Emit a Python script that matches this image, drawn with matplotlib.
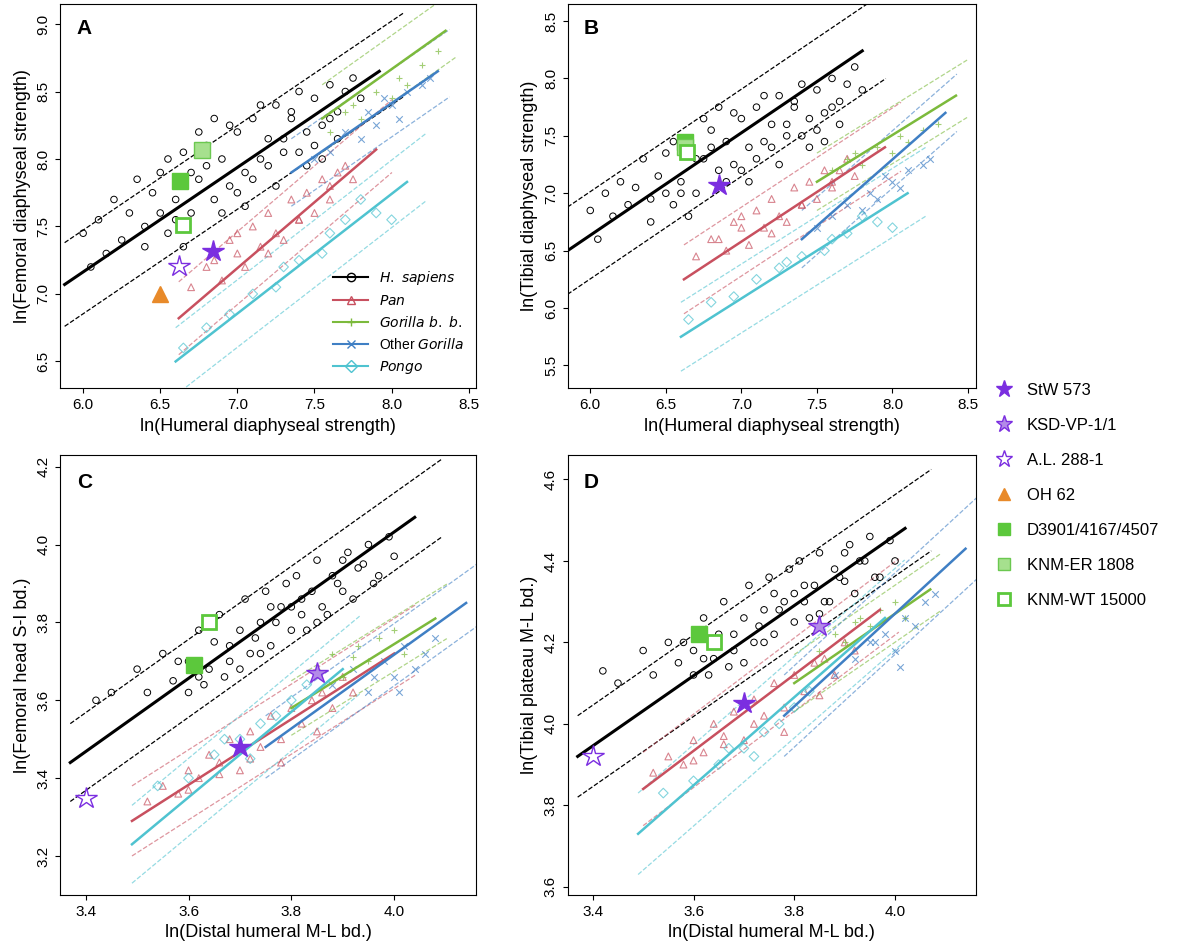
import matplotlib
matplotlib.use("Agg")
import matplotlib.pyplot as plt
from matplotlib.lines import Line2D
import numpy as np

plt.rcParams['font.family'] = ['Liberation Sans', 'DejaVu Sans']

COL = {'sap': 'black', 'pan': '#c8505f', 'gbb': '#7cba3c', 'gor': '#3f7fc4', 'pon': '#4fc3d0'}
MK = {'sap': 'o', 'pan': '^', 'gbb': '+', 'gor': 'x', 'pon': 'D'}

# ---------- Panel A data ----------
A_sap_x = [6.0,6.05,6.1,6.15,6.2,6.25,6.3,6.35,6.4,6.45,6.5,6.55,6.6,6.65,6.7,6.75,6.8,6.85,6.9,6.95,7.0,7.05,7.1,7.15,7.2,7.25,7.3,7.35,7.4,7.45,7.5,7.55,7.6,7.65,7.7,7.75,7.8,6.4,6.5,6.6,6.7,6.8,6.9,7.0,7.1,7.2,7.3,7.4,7.5,7.6,6.55,6.75,6.95,7.15,7.35,7.55,7.05,7.25,6.85,6.65,7.45,7.65]
A_sap_y = [7.45,7.2,7.55,7.3,7.7,7.4,7.6,7.85,7.5,7.75,7.9,7.45,7.7,8.05,7.6,7.85,8.1,7.7,8.0,7.8,8.2,7.9,8.3,8.0,8.15,8.4,8.05,8.3,8.5,8.2,8.45,8.25,8.55,8.35,8.5,8.6,8.45,7.35,7.6,7.55,7.9,7.95,7.6,7.75,7.85,7.95,8.15,8.05,8.1,8.3,8.0,8.2,8.25,8.4,8.35,8.0,7.65,7.8,8.3,7.35,7.95,8.15]
A_pan_x = [6.7,6.8,6.9,6.95,7.0,7.05,7.1,7.15,7.2,7.25,7.3,7.35,7.4,7.45,7.5,7.55,7.6,7.65,7.7,7.75,6.85,7.0,7.2,7.4,7.6]
A_pan_y = [7.05,7.2,7.1,7.4,7.3,7.2,7.5,7.35,7.6,7.45,7.4,7.7,7.55,7.75,7.6,7.85,7.7,7.9,7.95,7.85,7.25,7.45,7.3,7.55,7.8]
A_gbb_x = [7.6,7.7,7.8,7.9,8.0,8.05,8.1,8.2,8.3,7.75]
A_gbb_y = [8.2,8.35,8.3,8.5,8.45,8.6,8.55,8.7,8.8,8.4]
A_gor_x = [7.5,7.6,7.7,7.8,7.85,7.9,8.0,8.05,8.1,8.2,8.25,7.95]
A_gor_y = [8.0,8.05,8.2,8.15,8.35,8.25,8.4,8.3,8.5,8.55,8.6,8.45]
A_pon_x = [6.65,6.8,6.95,7.1,7.25,7.4,7.55,7.7,7.8,7.9,8.0,7.3,7.6]
A_pon_y = [6.6,6.75,6.85,7.0,7.05,7.25,7.3,7.55,7.7,7.6,7.55,7.2,7.45]
A_fit = {'sap': (5.88, 7.92, 7.07, 8.65, 0.31), 'pan': (6.62, 7.9, 6.82, 8.07, 0.27),
         'gbb': (7.55, 8.35, 8.3, 8.95, 0.25), 'gor': (7.35, 8.3, 7.9, 8.65, 0.25),
         'pon': (6.6, 8.1, 6.5, 7.83, 0.25)}
A_fossil = {'StW 573': (6.84, 7.32), 'A.L. 288-1': (6.62, 7.21), 'OH 62': (6.5, 7.0),
            'D3901/4167/4507': (6.63, 7.84), 'KNM-ER 1808': (6.77, 8.07), 'KNM-WT 15000': (6.65, 7.51)}

# ---------- Panel B data ----------
B_sap_x = A_sap_x
B_sap_y = [6.85,6.6,7.0,6.8,7.1,6.9,7.05,7.3,6.95,7.15,7.35,6.9,7.1,7.45,7.0,7.3,7.55,7.2,7.45,7.25,7.65,7.4,7.75,7.45,7.6,7.85,7.5,7.75,7.95,7.65,7.9,7.7,8.0,7.8,7.95,8.1,7.9,6.75,7.0,7.0,7.3,7.4,7.1,7.2,7.3,7.4,7.6,7.5,7.55,7.75,7.45,7.65,7.7,7.85,7.8,7.45,7.1,7.25,7.75,6.8,7.4,7.6]
B_pan_x = A_pan_x
B_pan_y = [6.45,6.6,6.5,6.75,6.7,6.55,6.85,6.7,6.95,6.8,6.75,7.05,6.9,7.1,6.95,7.2,7.05,7.2,7.3,7.15,6.6,6.8,6.65,6.9,7.1]
B_gbb_x = A_gbb_x
B_gbb_y = [7.2,7.3,7.25,7.4,7.35,7.5,7.45,7.55,7.6,7.35]
B_gor_x = A_gor_x
B_gor_y = [6.7,6.8,6.9,6.85,7.0,6.95,7.1,7.05,7.2,7.25,7.3,7.15]
B_pon_x = A_pon_x
B_pon_y = [5.9,6.05,6.1,6.25,6.35,6.45,6.5,6.65,6.8,6.75,6.7,6.4,6.6]
B_fit = {'sap': (5.85, 7.8, 6.5, 8.24, 0.38), 'pan': (6.62, 7.95, 6.25, 7.4, 0.3),
         'gbb': (7.5, 8.42, 7.1, 7.85, 0.25), 'gor': (7.4, 8.35, 6.6, 7.7, 0.25),
         'pon': (6.6, 8.1, 5.75, 7.0, 0.3)}
B_fossil = {'StW 573': (6.85, 7.07), 'D3901/4167/4507': (6.63, 7.45),
            'KNM-ER 1808': (6.63, 7.40), 'KNM-WT 15000': (6.64, 7.36)}

# ---------- Panel C data ----------
C_sap_x = [3.42,3.45,3.5,3.52,3.55,3.57,3.6,3.62,3.63,3.65,3.66,3.68,3.7,3.71,3.72,3.74,3.75,3.76,3.78,3.79,3.8,3.81,3.82,3.84,3.85,3.86,3.88,3.9,3.91,3.92,3.94,3.95,3.97,3.99,4.0,3.6,3.64,3.68,3.7,3.73,3.77,3.8,3.83,3.87,3.89,3.93,3.96,3.67,3.74,3.82,3.58,3.62,3.76,3.85,3.9]
C_sap_y = [3.6,3.62,3.68,3.62,3.72,3.65,3.7,3.78,3.64,3.75,3.82,3.7,3.78,3.86,3.72,3.8,3.88,3.74,3.84,3.9,3.78,3.92,3.82,3.88,3.96,3.84,3.92,3.88,3.98,3.86,3.95,4.0,3.92,4.02,3.97,3.62,3.68,3.74,3.68,3.76,3.8,3.84,3.78,3.82,3.9,3.94,3.9,3.66,3.72,3.86,3.7,3.66,3.84,3.8,3.96]
C_pan_x = [3.52,3.55,3.58,3.6,3.62,3.64,3.66,3.68,3.7,3.72,3.74,3.76,3.78,3.8,3.82,3.84,3.86,3.88,3.9,3.92,3.6,3.66,3.72,3.78,3.85]
C_pan_y = [3.34,3.38,3.36,3.42,3.4,3.46,3.44,3.5,3.42,3.52,3.48,3.56,3.5,3.58,3.54,3.6,3.62,3.58,3.66,3.62,3.37,3.41,3.45,3.44,3.52]
C_gbb_x = [3.85,3.88,3.9,3.93,3.95,3.97,4.0,4.02,3.92]
C_gbb_y = [3.68,3.72,3.66,3.74,3.7,3.76,3.78,3.72,3.71]
C_gor_x = [3.88,3.92,3.95,3.98,4.0,4.02,4.04,4.06,4.08,3.96,4.01]
C_gor_y = [3.64,3.68,3.62,3.7,3.66,3.74,3.68,3.72,3.76,3.66,3.62]
C_pon_x = [3.54,3.6,3.65,3.7,3.74,3.77,3.8,3.83,3.72,3.67]
C_pon_y = [3.38,3.4,3.46,3.5,3.54,3.56,3.6,3.64,3.45,3.5]
C_fit = {'sap': (3.37, 4.04, 3.44, 4.07, 0.1), 'pan': (3.49, 4.0, 3.29, 3.72, 0.09),
         'gbb': (3.8, 4.08, 3.58, 3.81, 0.07), 'gor': (3.75, 4.14, 3.48, 3.85, 0.08),
         'pon': (3.49, 3.9, 3.23, 3.68, 0.1)}
C_fossil = {'StW 573': (3.70, 3.48), 'KSD-VP-1/1': (3.85, 3.67), 'A.L. 288-1': (3.40, 3.35),
            'D3901/4167/4507': (3.61, 3.69), 'KNM-WT 15000': (3.64, 3.80)}

# ---------- Panel D data ----------
D_sap_x = C_sap_x
D_sap_y = [4.13,4.1,4.18,4.12,4.2,4.15,4.18,4.26,4.12,4.22,4.3,4.18,4.26,4.34,4.2,4.28,4.36,4.22,4.3,4.38,4.25,4.4,4.3,4.34,4.42,4.3,4.38,4.35,4.44,4.32,4.4,4.46,4.36,4.45,4.4,4.12,4.16,4.22,4.15,4.24,4.28,4.32,4.26,4.3,4.36,4.4,4.36,4.14,4.2,4.34,4.2,4.16,4.32,4.27,4.42]
D_pan_x = C_pan_x
D_pan_y = [3.88,3.92,3.9,3.96,3.93,4.0,3.97,4.03,3.96,4.06,4.02,4.1,4.04,4.12,4.08,4.15,4.16,4.12,4.2,4.18,3.91,3.95,4.0,3.98,4.07]
D_gbb_x = C_gbb_x
D_gbb_y = [4.18,4.22,4.2,4.26,4.24,4.28,4.3,4.26,4.25]
D_gor_x = C_gor_x
D_gor_y = [4.12,4.16,4.2,4.22,4.18,4.26,4.24,4.3,4.32,4.2,4.14]
D_pon_x = C_pon_x
D_pon_y = [3.83,3.86,3.9,3.94,3.98,4.0,4.04,4.08,3.92,3.94]
D_fit = {'sap': (3.37, 4.02, 3.92, 4.48, 0.1), 'pan': (3.5, 3.97, 3.84, 4.28, 0.09),
         'gbb': (3.8, 4.07, 4.1, 4.33, 0.07), 'gor': (3.78, 4.14, 4.02, 4.43, 0.1),
         'pon': (3.49, 3.98, 3.73, 4.26, 0.1)}
D_fossil = {'StW 573': (3.70, 4.05), 'KSD-VP-1/1': (3.85, 4.24), 'A.L. 288-1': (3.40, 3.92),
            'D3901/4167/4507': (3.61, 4.22), 'KNM-WT 15000': (3.64, 4.20)}

FOSSIL_STYLE = {
    'StW 573': dict(marker='*', ms=16, mfc='#7b2ee0', mec='#7b2ee0'),
    'KSD-VP-1/1': dict(marker='*', ms=16, mfc='#b38be8', mec='#7b2ee0'),
    'A.L. 288-1': dict(marker='*', ms=16, mfc='white', mec='#7b2ee0'),
    'OH 62': dict(marker='^', ms=11, mfc='#e88a2a', mec='#e88a2a'),
    'D3901/4167/4507': dict(marker='s', ms=11, mfc='#5cc83c', mec='#5cc83c'),
    'KNM-ER 1808': dict(marker='s', ms=11, mfc='#a6e08e', mec='#6bc850'),
    'KNM-WT 15000': dict(marker='s', ms=10, mfc='white', mec='#5cc83c', mew=2),
}

fig = plt.figure(figsize=(12, 9.52), dpi=100)
axes_pos = {'A': [0.05, 0.592, 0.347, 0.404], 'B': [0.473, 0.592, 0.34, 0.404],
            'C': [0.05, 0.06, 0.347, 0.462], 'D': [0.473, 0.06, 0.34, 0.462]}

panels = {
    'A': (dict(sap=(A_sap_x, A_sap_y), pan=(A_pan_x, A_pan_y), gbb=(A_gbb_x, A_gbb_y), gor=(A_gor_x, A_gor_y), pon=(A_pon_x, A_pon_y)),
          A_fit, A_fossil, (5.85, 8.55), (6.3, 9.15), [6.0,6.5,7.0,7.5,8.0,8.5], [6.5,7.0,7.5,8.0,8.5,9.0],
          'ln(Humeral diaphyseal strength)', 'ln(Femoral diaphyseal strength)'),
    'B': (dict(sap=(B_sap_x, B_sap_y), pan=(B_pan_x, B_pan_y), gbb=(B_gbb_x, B_gbb_y), gor=(B_gor_x, B_gor_y), pon=(B_pon_x, B_pon_y)),
          B_fit, B_fossil, (5.85, 8.55), (5.3, 8.65), [6.0,6.5,7.0,7.5,8.0,8.5], [5.5,6.0,6.5,7.0,7.5,8.0,8.5],
          'ln(Humeral diaphyseal strength)', 'ln(Tibial diaphyseal strength)'),
    'C': (dict(sap=(C_sap_x, C_sap_y), pan=(C_pan_x, C_pan_y), gbb=(C_gbb_x, C_gbb_y), gor=(C_gor_x, C_gor_y), pon=(C_pon_x, C_pon_y)),
          C_fit, C_fossil, (3.35, 4.16), (3.1, 4.23), [3.4,3.6,3.8,4.0], [3.2,3.4,3.6,3.8,4.0,4.2],
          'ln(Distal humeral M-L bd.)', 'ln(Femoral head S-I bd.)'),
    'D': (dict(sap=(D_sap_x, D_sap_y), pan=(D_pan_x, D_pan_y), gbb=(D_gbb_x, D_gbb_y), gor=(D_gor_x, D_gor_y), pon=(D_pon_x, D_pon_y)),
          D_fit, D_fossil, (3.35, 4.16), (3.58, 4.66), [3.4,3.6,3.8,4.0], [3.6,3.8,4.0,4.2,4.4,4.6],
          'ln(Distal humeral M-L bd.)', 'ln(Tibial plateau M-L bd.)'),
}

for key, (pts, fits, fos, xl, yl, xt, yt, xlab, ylab) in panels.items():
    ax = fig.add_axes(axes_pos[key])
    for sp, (xs, ys) in pts.items():
        if sp == 'sap':
            ax.scatter(xs, ys, s=22, facecolors='none', edgecolors='black', linewidths=0.7, zorder=3)
        elif sp in ('gbb', 'gor'):
            ax.scatter(xs, ys, s=22, marker=MK[sp], color=COL[sp], alpha=0.7, linewidths=0.8, zorder=2)
        else:
            ax.scatter(xs, ys, s=24, marker=MK[sp], facecolors='none', edgecolors=COL[sp], alpha=0.7, linewidths=0.8, zorder=2)
    for sp, (x0, x1, y0, y1, w) in fits.items():
        lw = 2.2 if sp == 'sap' else 1.8
        ax.plot([x0, x1], [y0, y1], color=COL[sp], lw=lw, zorder=4)
        dcol = 'black' if sp == 'sap' else COL[sp]
        al = 1 if sp == 'sap' else 0.6
        for s in (-1, 1):
            ax.plot([x0, x1 + 0.08 * (x1 - x0)], [y0 + s * w, y1 + 0.08 * (y1 - y0) + s * w],
                    ls='--', color=dcol, lw=0.9, alpha=al, zorder=1)
    for name, (fx, fy) in fos.items():
        ax.plot(fx, fy, ls='none', zorder=6, **FOSSIL_STYLE[name])
    ax.set_xlim(*xl); ax.set_ylim(*yl)
    ax.set_xticks(xt); ax.set_yticks(yt)
    ax.set_yticklabels([f'{v:.1f}' for v in yt], rotation=90, va='center')
    ax.tick_params(labelsize=11)
    ax.set_xlabel(xlab, fontsize=13); ax.set_ylabel(ylab, fontsize=13)
    ax.text(0.04, 0.96, key, transform=ax.transAxes, fontsize=15, fontweight='bold', va='top')
    if key == 'A':
        labels = ['H. sapiens', 'Pan', 'Gorilla b. b.', 'Other Gorilla', 'Pongo']
        hs = [Line2D([], [], color=COL[s], marker=MK[s], mfc='none' if s in ('sap','pan','pon') else COL[s], ms=6)
              for s in ['sap', 'pan', 'gbb', 'gor', 'pon']]
        ax.legend(hs, ['$\\it{H.\\ sapiens}$', '$\\it{Pan}$', '$\\it{Gorilla\\ b.\\ b.}$',
                       'Other $\\it{Gorilla}$', '$\\it{Pongo}$'],
                  loc='lower right', frameon=False, fontsize=10, handlelength=2.5)

names = ['StW 573', 'KSD-VP-1/1', 'A.L. 288-1', 'OH 62', 'D3901/4167/4507', 'KNM-ER 1808', 'KNM-WT 15000']
hs = [Line2D([], [], ls='none', **{**FOSSIL_STYLE[n], 'ms': FOSSIL_STYLE[n]['ms'] * 0.8}) for n in names]
fig.legend(hs, names, loc='center left', bbox_to_anchor=(0.81, 0.48), frameon=False,
           fontsize=12, labelspacing=1.2, handletextpad=0.4)

fig.savefig('out.png', dpi=100)
